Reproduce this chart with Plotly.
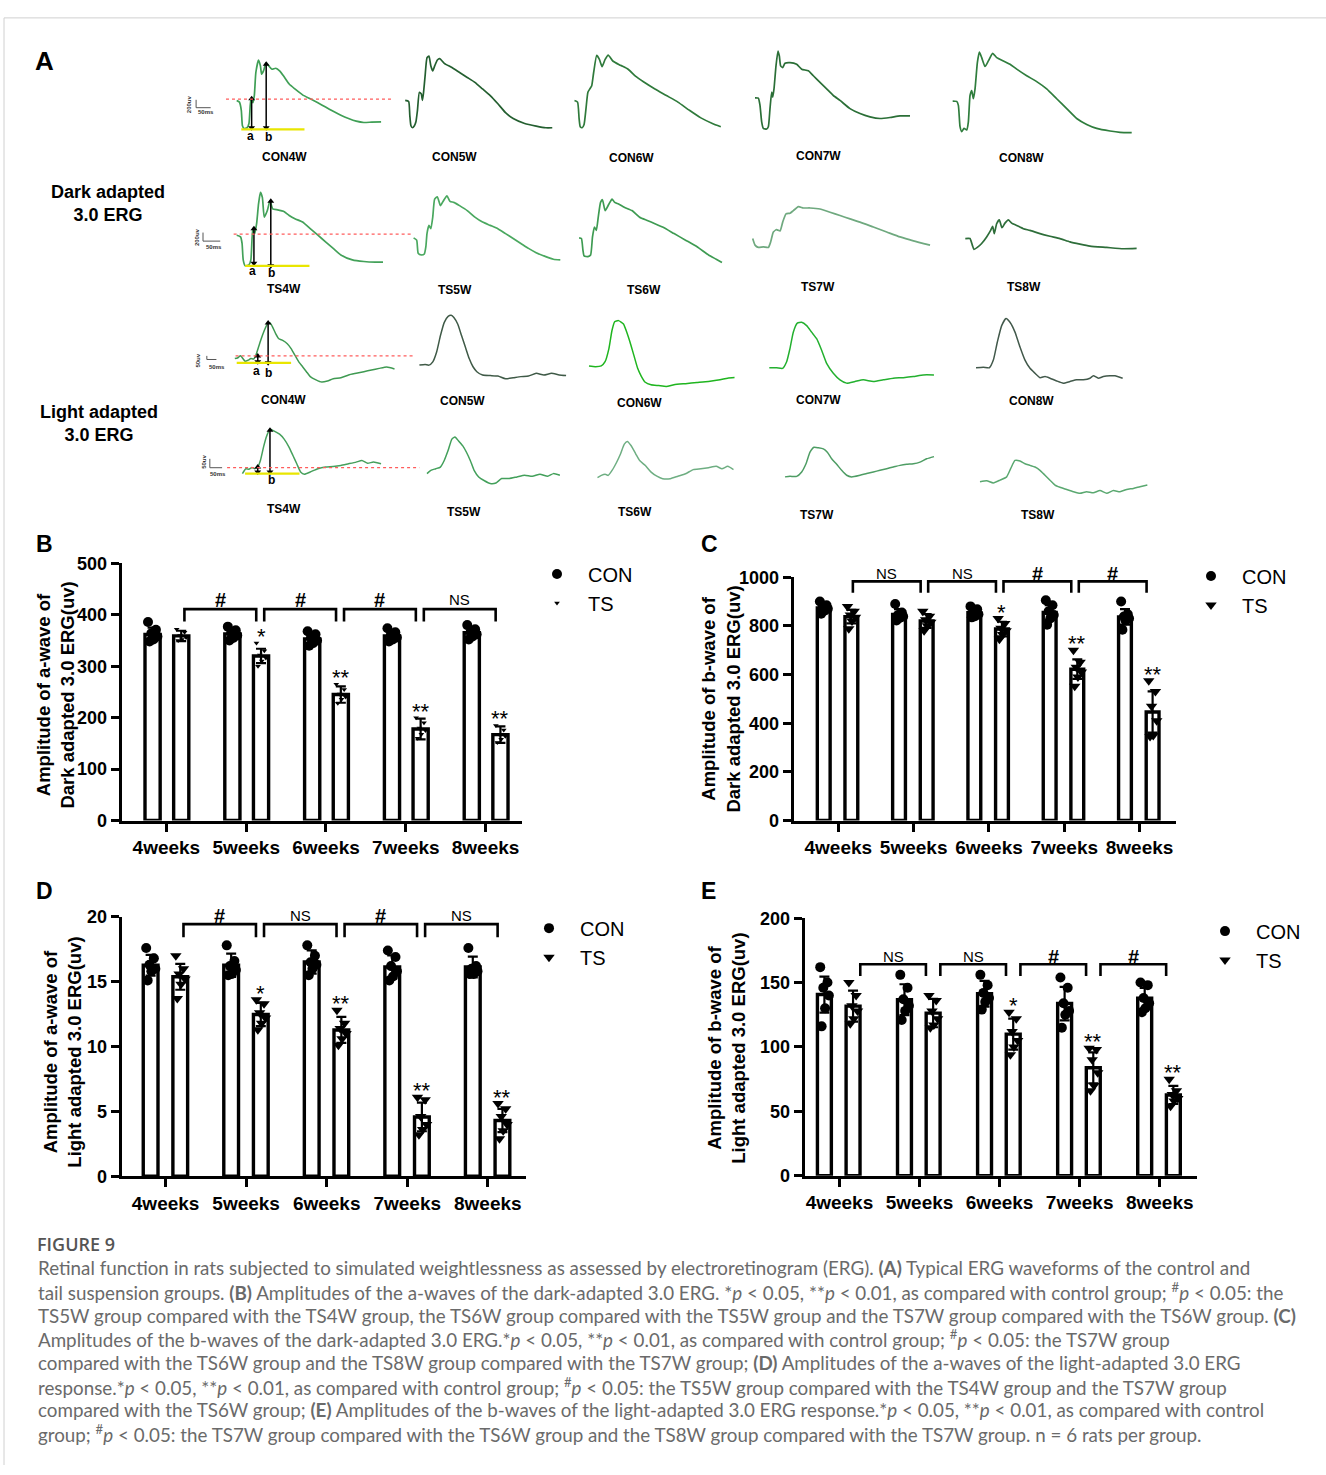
import plotly.graph_objects as go

W, H = 1326, 1475


def fx(p):
    return p / W


def fy(p):
    return 1 - p / H


AXIS_FONT = "Liberation Sans, Arial, sans-serif"
LABEL_FONT = "Liberation Sans, Arial, sans-serif"
CAPTION_FONT = "Lato, Open Sans, sans-serif"

weeks = ["4weeks", "5weeks", "6weeks", "7weeks", "8weeks"]

# ---------------- Panel B: a-wave, dark adapted ----------------
b_con_mean = [362, 363, 353, 359, 365]
b_con_sd = [13, 9, 11, 9, 8]
b_ts_mean = [359, 320, 245, 178, 167]
b_ts_sd = [10, 14, 16, 20, 16]
b_con_points = [[386, 371, 364, 358, 352, 348], [377, 370, 365, 360, 355, 350],
                [368, 362, 356, 350, 345, 340], [374, 366, 360, 356, 352, 348],
                [380, 372, 366, 362, 358, 352]]
b_ts_points = [[372, 366, 360, 356, 352, 350], [345, 330, 322, 316, 310, 300],
               [265, 255, 246, 240, 236, 228], [200, 190, 180, 175, 168, 160],
               [185, 176, 168, 164, 158, 152]]
b_stars = ["", "*", "**", "**", "**"]
b_brackets = ["#", "#", "#", "NS"]

# ---------------- Panel C: b-wave, dark adapted ----------------
c_con_mean = [874, 847, 854, 855, 837]
c_con_sd = [15, 22, 15, 30, 32]
c_ts_mean = [838, 820, 787, 622, 446]
c_ts_sd = [28, 28, 30, 40, 85]
c_con_points = [[900, 885, 878, 870, 862, 850], [890, 855, 845, 838, 832, 822],
                [880, 868, 855, 848, 840, 835], [905, 885, 860, 845, 830, 805],
                [900, 848, 838, 830, 822, 784]]
c_ts_points = [[880, 860, 845, 835, 820, 788], [860, 840, 825, 815, 800, 780],
               [830, 810, 790, 780, 765, 745], [700, 650, 630, 610, 590, 552],
               [575, 530, 470, 410, 350, 345]]
c_stars = ["", "", "*", "**", "**"]
c_brackets = ["NS", "NS", "#", "#"]

# ---------------- Panel D: a-wave, light adapted ----------------
d_con_mean = [16.27, 16.27, 16.52, 16.13, 16.13]
d_con_sd = [0.8, 0.9, 0.9, 0.9, 0.8]
d_ts_mean = [15.38, 12.47, 11.28, 4.57, 4.30]
d_ts_sd = [1.0, 0.9, 1.0, 1.1, 0.9]
d_con_points = [[17.6, 16.8, 16.3, 16.0, 15.8, 15.1], [17.8, 16.6, 16.2, 15.9, 15.6, 15.5],
                [17.8, 17.0, 16.5, 16.3, 16.0, 15.5], [17.4, 16.9, 16.2, 15.8, 15.4, 15.1],
                [17.6, 16.2, 16.0, 15.8, 15.6, 15.6]]
d_ts_points = [[17.0, 16.0, 15.6, 15.2, 14.8, 13.7], [13.6, 13.3, 12.6, 12.2, 11.8, 11.3],
               [12.8, 11.8, 11.4, 11.0, 10.6, 10.1], [6.1, 5.9, 4.6, 4.0, 3.6, 3.2],
               [5.6, 5.2, 4.6, 4.0, 3.5, 2.9]]
d_stars = ["", "*", "**", "**", "**"]
d_brackets = ["#", "NS", "#", "NS"]

# ---------------- Panel E: b-wave, light adapted ----------------
e_con_mean = [140.7, 136.7, 141.3, 133.7, 137.8]
e_con_sd = [14, 12, 10, 13, 8]
e_ts_mean = [131.7, 126.3, 110.0, 83.8, 62.7]
e_ts_sd = [12, 11, 12, 12, 7]
e_con_points = [[162, 150, 146, 140, 130, 116], [156, 146, 137, 132, 128, 121],
                [156, 148, 142, 138, 135, 129], [154, 146, 134, 128, 125, 115],
                [150, 148, 138, 134, 130, 127]]
e_ts_points = [[150, 140, 132, 128, 122, 118], [140, 136, 128, 122, 117, 115],
               [127, 122, 112, 105, 100, 94], [99, 98, 90, 80, 70, 66],
               [75, 66, 63, 60, 58, 54]]
e_stars = ["", "", "*", "**", "**"]
e_brackets = ["NS", "NS", "#", "#"]

# ---------------- Panel A: ERG waveforms (time ms, amplitude uV) ----------------
dark_con4_t = [0, 3.5, 6, 7.5, 9.5, 13.5, 16, 18.5, 21, 23, 25, 28.5, 31, 32.5, 35, 38.5, 42, 46, 51, 56, 61, 68.5, 76, 86, 96, 106, 116, 126, 136, 146, 156, 166, 176, 188.5]
dark_con4_v = [0, -20, -120, -308, -340, -332, -280, 20, -28, 60, 340, 492, 420, 320, 360, 460, 420, 380, 392, 360, 300, 200, 140, 68, 20, -28, -80, -132, -180, -220, -252, -268, -264, -260]
dark_con5_t = [0, 4.5, 6, 7.5, 9.5, 12, 14, 16, 18.5, 21, 22.5, 24, 26, 28.5, 31, 33.5, 36, 38.5, 42, 45, 51, 61, 71, 81, 91, 101, 111, 121, 131, 141, 156, 171, 183.5, 192]
dark_con5_v = [0, -12, -180, -308, -332, -308, -260, -120, 100, 80, 0, 100, 300, 520, 540, 420, 360, 420, 492, 508, 452, 400, 340, 280, 220, 140, 60, -40, -148, -220, -280, -312, -332, -332]
dark_con6_t = [0, 4, 6, 7.5, 10, 12.5, 15, 17.5, 20, 22.5, 25, 29, 32.5, 36, 40, 44, 50, 60, 70, 80, 90, 105, 120, 135, 150, 165, 180, 191]
dark_con6_v = [0, -20, -220, -320, -332, -292, -100, 100, 140, 180, 340, 548, 500, 412, 500, 552, 480, 428, 380, 292, 228, 140, 60, -20, -120, -212, -280, -320]
dark_con7_t = [0, 5, 7.5, 10, 12.5, 17.5, 20, 22.5, 25, 26.5, 28.5, 31.5, 34.5, 36.5, 38.5, 41.5, 45, 52.5, 62.5, 70, 80, 87.5, 97.5, 107.5, 117.5, 127.5, 142.5, 157.5, 172.5, 187.5, 202.5, 217.5, 232.5]
dark_con7_v = [0, -4, -92, -292, -372, -380, -352, -132, 68, 8, 108, 388, 568, 508, 388, 368, 420, 428, 408, 348, 328, 268, 188, 108, 28, -32, -132, -192, -232, -252, -240, -220, -220]
dark_con8_t = [0, 6, 8.5, 11, 13.5, 17, 21, 23.5, 26, 28.5, 31, 33.5, 37, 40, 43.5, 48.5, 53.5, 60, 66, 76, 86, 96, 111, 126, 141, 156, 171, 186, 201, 216, 236, 251, 268.5]
dark_con8_v = [0, -4, -52, -312, -372, -332, -352, -252, 68, 128, 28, 148, 468, 596, 528, 420, 488, 580, 528, 488, 448, 388, 308, 236, 148, 28, -92, -212, -284, -332, -364, -380, -384]
dark_ts4_t = [0, 5, 7, 8.5, 11, 16, 18.5, 21, 23.5, 26, 28.5, 31, 33.5, 36, 40, 43.5, 47, 53.5, 61, 68.5, 76, 86, 96, 106, 116, 126, 136, 151, 166, 181, 191]
dark_ts4_v = [0, -20, -100, -300, -372, -360, -300, 80, 20, 140, 380, 520, 460, 220, 300, 420, 320, 308, 292, 240, 200, 160, 80, 0, -80, -160, -240, -300, -320, -328, -328]
dark_ts5_t = [0, 4, 6, 10, 14, 16, 17.5, 20, 22.5, 25, 27.5, 31, 35, 39, 43.5, 47.5, 52.5, 60, 70, 80, 90, 100, 110, 120, 130, 140, 150, 160, 172.5, 182.5, 191.5]
dark_ts5_v = [0, -28, -188, -208, -196, -108, 52, 152, 112, 252, 472, 500, 392, 452, 512, 444, 432, 392, 332, 252, 192, 152, 112, 52, -8, -68, -128, -180, -228, -260, -268]
dark_ts6_t = [0, 3, 5, 6.5, 11.5, 15, 17.5, 20, 22.5, 25, 28, 30.5, 34, 39, 43, 46.5, 51.5, 59, 69, 79, 89, 99, 109, 124, 139, 154, 169, 179, 186.5]
dark_ts6_v = [0, -8, -148, -220, -228, -208, 12, 132, 92, 252, 432, 464, 332, 412, 472, 432, 412, 372, 332, 252, 212, 172, 132, 52, -28, -108, -208, -260, -300]
dark_ts7_t = [0, 3.5, 8.5, 16, 23.5, 27, 31, 36, 41, 45, 50, 56, 61, 68.5, 76, 86, 101, 116, 131, 146, 161, 181, 201, 221, 241, 266]
dark_ts7_v = [0, -80, -108, -100, -108, -40, 80, 108, 92, 200, 300, 308, 340, 388, 372, 372, 360, 320, 280, 240, 200, 140, 80, 20, -28, -80]
dark_ts8_t = [0, 7, 10.5, 13, 18, 24.5, 32, 38, 41, 43.5, 47, 51, 55, 59.5, 64.5, 69.5, 77, 87, 97, 112, 127, 142, 157, 172, 187, 212, 237, 257]
dark_ts8_v = [0, 0, -80, -132, -108, -60, 20, 100, 148, 60, 180, 228, 132, 188, 228, 188, 160, 120, 100, 60, 28, 0, -40, -68, -92, -108, -124, -120]

light_con4_t = [0, 3.5, 7.5, 11, 13.5, 17.5, 21, 24.5, 27.5, 31, 34.5, 38.5, 42.5, 46, 49.5, 53.5, 57.5, 62.5, 68.5, 73.5, 78.5, 83.5, 88.5, 93.5, 98.5, 106, 113.5, 121, 128.5, 138.5, 148.5, 158.5, 168.5, 178.5, 188.5, 198.5, 208.5]
light_con4_v = [0, 2, 10, -2, -10, -6, 0, -2, 12, 42, 72, 102, 126, 130, 114, 90, 72, 66, 54, 36, 12, -12, -30, -48, -66, -78, -86, -82, -74, -70, -60, -54, -48, -42, -36, -31, -38]
light_con5_t = [0, 7.5, 12.5, 17.5, 22.5, 27.5, 32.5, 37.5, 41.5, 45, 50, 55, 60, 65, 70, 75, 82.5, 92.5, 102.5, 112.5, 122.5, 132.5, 142.5, 152.5, 162.5, 172.5, 182.5, 191.5]
light_con5_v = [0, 2, 0, 12, 48, 108, 156, 178, 182, 174, 150, 108, 66, 24, -6, -24, -36, -38, -40, -50, -46, -42, -40, -30, -36, -30, -36, -38]
light_con6_t = [0, 8.5, 16, 21, 26, 30, 33.5, 38.5, 45, 48.5, 53.5, 58.5, 63.5, 68.5, 73.5, 81, 91, 101, 111, 126, 141, 156, 171, 181, 190]
light_con6_v = [0, -2, 1, 16, 64, 130, 162, 166, 154, 130, 88, 40, -8, -38, -59, -68, -71, -74, -68, -64, -60, -56, -50, -44, -42]
light_con7_t = [0, 11, 20, 26, 31, 36, 42, 48.5, 56, 63.5, 71, 78.5, 86, 96, 106, 116, 128.5, 141, 156, 171, 186, 201, 216, 231, 247]
light_con7_v = [0, 0, -2, 22, 70, 130, 163, 166, 154, 130, 106, 64, 16, -20, -44, -56, -50, -44, -50, -44, -38, -36, -32, -26, -26]
light_con8_t = [0, 11, 20, 26, 32, 38.5, 45, 51, 58.5, 66, 73.5, 81, 88.5, 96, 103.5, 111, 121, 131, 141, 151, 161, 171, 176, 183.5, 191, 201, 208.5, 220]
light_con8_v = [0, 2, 0, 28, 94, 154, 180, 166, 130, 76, 28, -2, -20, -36, -32, -38, -48, -56, -50, -44, -44, -38, -29, -38, -32, -29, -29, -38]
light_ts4_t = [0, 4.5, 8.5, 12.5, 16, 20, 23.5, 27.5, 31, 36, 41, 48.5, 54.5, 61, 66, 71, 76, 81, 88.5, 98.5, 108.5, 118.5, 128.5, 138.5, 148.5, 156, 163.5, 171, 181]
light_ts4_v = [0, 18, 16, 22, 18, 24, 48, 96, 132, 162, 156, 144, 126, 96, 66, 36, 6, -2, 6, 18, 24, 26, 30, 36, 42, 48, 38, 42, 36]
light_ts5_t = [0, 5, 11.5, 17.5, 22.5, 27.5, 32.5, 36.5, 41, 46.5, 51.5, 56.5, 61.5, 67.5, 75, 82.5, 90, 97.5, 107.5, 117.5, 127.5, 137.5, 147.5, 157.5, 165, 173.5]
light_ts5_v = [0, 12, 18, 24, 48, 84, 126, 134, 120, 102, 78, 48, 12, -12, -26, -36, -34, -18, -18, -12, -6, -10, -2, -10, 0, -6]
light_ts6_t = [0, 5, 10, 14, 19, 25, 30, 35, 39, 44, 50, 55, 62.5, 70, 77.5, 85, 95, 105, 115, 125, 135, 145, 155, 162.5, 170, 177.5]
light_ts6_v = [0, 8, 12, 8, 26, 56, 86, 122, 132, 116, 86, 62, 44, 20, 5, -4, -4, 5, 14, 29, 32, 36, 41, 32, 41, 29]
light_ts7_t = [0, 7.5, 17.5, 25, 31.5, 37.5, 43.5, 50, 57.5, 63.5, 70, 77.5, 85, 92.5, 100, 112.5, 122.5, 132.5, 142.5, 152.5, 162.5, 172.5, 182.5, 192.5, 202.5, 212.5, 223.5]
light_ts7_v = [0, 2, 2, 18, 48, 90, 108, 106, 102, 90, 66, 46, 24, 6, 0, 6, 12, 18, 24, 30, 36, 42, 46, 48, 54, 66, 74]
light_ts8_t = [0, 10, 20, 30, 40, 46, 52.5, 60, 67.5, 75, 82.5, 90, 97.5, 105, 112.5, 120, 130, 140, 150, 160, 170, 180, 190, 200, 210, 220, 230, 240, 251]
light_ts8_v = [0, 4, -4, 6, 18, 48, 78, 76, 66, 60, 54, 42, 24, 6, -12, -20, -28, -36, -42, -36, -40, -32, -42, -32, -36, -28, -24, -18, -12]

erg_names = [["CON4W", "CON5W", "CON6W", "CON7W", "CON8W"],
             ["TS4W", "TS5W", "TS6W", "TS7W", "TS8W"],
             ["CON4W", "CON5W", "CON6W", "CON7W", "CON8W"],
             ["TS4W", "TS5W", "TS6W", "TS7W", "TS8W"]]
erg_data = [
    [(dark_con4_t, dark_con4_v), (dark_con5_t, dark_con5_v), (dark_con6_t, dark_con6_v), (dark_con7_t, dark_con7_v), (dark_con8_t, dark_con8_v)],
    [(dark_ts4_t, dark_ts4_v), (dark_ts5_t, dark_ts5_v), (dark_ts6_t, dark_ts6_v), (dark_ts7_t, dark_ts7_v), (dark_ts8_t, dark_ts8_v)],
    [(light_con4_t, light_con4_v), (light_con5_t, light_con5_v), (light_con6_t, light_con6_v), (light_con7_t, light_con7_v), (light_con8_t, light_con8_v)],
    [(light_ts4_t, light_ts4_v), (light_ts5_t, light_ts5_v), (light_ts6_t, light_ts6_v), (light_ts7_t, light_ts7_v), (light_ts8_t, light_ts8_v)],
]

# ---------------- layout constants (pixel positions, styles) ----------------
ROW_KIND = ["dark", "dark", "light", "light"]
CELL_ORIGIN = [
    [(236.7, 91.7), (405.2, 91.7), (574.5, 91.7), (755, 89), (952.7, 92.3)],
    [(236.7, 228.3), (413.6, 231), (579.1, 231), (752.7, 231.7), (965.3, 231.7)],
    [(234.8, 353.3), (419.4, 360), (589, 361), (769.3, 362.7), (976, 362.7)],
    [(242.4, 470), (427, 470), (597.5, 474), (785, 473.3), (980, 478.3)],
]
COL_MSPP = [1.3055, 1.3055, 1.3055, 1.5, 1.5]
CELL_COLOR = [
    ["#3f9f55", "#245f30", "#2f7a3b", "#2b6f37", "#2f7d3d"],
    ["#43a159", "#4aa85f", "#3e9b52", "#6fa97f", "#2e6e3a"],
    ["#3f9a52", "#3f5a47", "#1fb51f", "#23b02f", "#42594b"],
    ["#46a05c", "#43a05b", "#6eae82", "#4e9d64", "#5aa870"],
]
LABEL_POS = [
    [(284, 149), (454, 149), (631, 150), (818, 148), (1021, 150)],
    [(284, 283), (455, 284), (644, 284), (818, 281), (1024, 281)],
    [(283, 395), (462, 396), (639, 398), (818, 395), (1031, 396)],
    [(284, 506), (464, 509), (635, 509), (817, 512), (1038, 512)],
]
# markup of the 4W example traces, in each cell's own (ms, uV) units
MARKUP = [
    dict(red=(-14, 203.5, 16), yellow=(6, 88.5, -352), arrows=[(19.5, 20, -332), (38.5, 440, -332)],
         letters=[("a", 17.5, -432), ("b", 41, -448)], bar=(-53, 8, -88, -34), vtxt=("200uv", -63, -40), htxt=("50ms", -40, -140)),
    dict(red=(-4, 231, 12), yellow=(11, 95, -372), arrows=[(22.5, 80, -340), (44.5, 412, -372)],
         letters=[("a", 21, -440), ("b", 46, -460)], bar=(-44, 32, -72, -21.5), vtxt=("200uv", -51.5, -20), htxt=("50ms", -29, -148)),
    dict(red=(1, 233.5, 9.6), yellow=(2.5, 73.5, -15.6), arrows=[(30, 9.6, -12), (43.5, 129.6, -15.6)],
         letters=[("a", 28.5, -45.6), ("b", 44.5, -51.6)], bar=(-36.5, 9.6, -3.6, -24), vtxt=("50uv", -47.5, -6), htxt=("50ms", -23, -30)),
    dict(red=(-20, 231, 21.6), yellow=(3.5, 74.5, 0), arrows=[(20, 24, 6), (36, 158, 6)],
         letters=[("b", 37.5, -24)], bar=(-42.5, 54, 21.6, -26.5), vtxt=("50uv", -50.5, 42), htxt=("50ms", -31.5, 0)),
]

PANELS = [
    dict(box=(121.7, 561, 522.3, 821.7), yrange=[0, 500], dtick=100, xrange=[-0.56, 4.46],
         con_off=-0.173, ts_off=0.186, bw=0.19, tri=5, btop=411, bdrop=387, blab=429, ins=(0.04, 0.06),
         title="Amplitude of a-wave of<br>Dark adapted 3.0 ERG(uv)", tpos=(56, 695), leg=(557, 578), letter=("B", 44, 541)),
    dict(box=(793.6, 575, 1175.5, 821.7), yrange=[0, 1000], dtick=200, xrange=[-0.594, 4.477],
         con_off=-0.194, ts_off=0.173, bw=0.17, tri=10, btop=983, bdrop=936, blab=1013, ins=(0.02, 0.08),
         title="Amplitude of b-wave of<br>Dark adapted 3.0 ERG(uv)", tpos=(721, 698), leg=(1211, 580), letter=("C", 709, 541)),
    dict(box=(121.7, 919.3, 526.2, 1182.3), yrange=[0, 20], dtick=5, xrange=[-0.545, 4.477],
         con_off=-0.186, ts_off=0.182, bw=0.183, tri=10, btop=19.44, bdrop=18.43, blab=20.07, ins=(0.04, 0.06),
         title="Amplitude of a-wave of<br>Light adapted 3.0 ERG(uv)", tpos=(63, 1057), leg=(549, 937), letter=("D", 44, 893)),
    dict(box=(804.7, 920.7, 1196.9, 1181.7), yrange=[0, 200], dtick=50, xrange=[-0.434, 4.464],
         con_off=-0.188, ts_off=0.17, bw=0.174, tri=10, btop=164.3, bdrop=155.1, blab=169.9, ins=(0.09, 0.09),
         title="Amplitude of b-wave of<br>Light adapted 3.0 ERG(uv)", tpos=(727, 1053), leg=(1225, 940), letter=("E", 708, 893)),
]
JITTER = [-0.30, 0.22, -0.08, 0.32, 0.05, -0.20]

fig = go.Figure()
layout = {}
annotations = []
shapes = []
ax_n = [0]


def paper_text(px, py, text, size, family=LABEL_FONT, color="black", **kw):
    d = dict(x=fx(px), y=fy(py), xref="paper", yref="paper", text=text, showarrow=False,
             xanchor="center", yanchor="middle", font=dict(family=family, size=size, color=color))
    d.update(kw)
    annotations.append(d)


def add_axes(x0, y0, x1, y1, xrange, yrange, visible):
    ax_n[0] += 1
    n = ax_n[0]
    sfx = "" if n == 1 else str(n)
    xr, yr = "x" + sfx, "y" + sfx
    common = dict(visible=visible, fixedrange=True, showgrid=False, zeroline=False)
    layout["xaxis" + sfx] = dict(domain=[fx(x0), fx(x1)], range=xrange, anchor=yr, **common)
    layout["yaxis" + sfx] = dict(domain=[fy(y1), fy(y0)], range=yrange, anchor=xr, **common)
    return xr, yr, "xaxis" + sfx, "yaxis" + sfx


def bar_panel(k, spec, con_mean, con_sd, con_pts, ts_mean, ts_sd, ts_pts, stars, brackets):
    x0, y0, x1, y1 = spec["box"]
    xr, yr, xa, ya = add_axes(x0, y0, x1, y1, spec["xrange"], spec["yrange"], True)
    axis_style = dict(showline=True, linewidth=3, linecolor="black", ticks="outside", ticklen=8,
                      tickwidth=3, tickcolor="black")
    layout[xa].update(axis_style, tickmode="array", tickvals=list(range(len(weeks))), ticktext=weeks,
                      tickfont=dict(family=AXIS_FONT, size=19, color="black", weight="bold"))
    layout[ya].update(axis_style, tickmode="linear", tick0=0, dtick=spec["dtick"],
                      tickfont=dict(family=AXIS_FONT, size=18, color="black", weight="bold"))
    yspan = spec["yrange"][1] - spec["yrange"][0]
    px_per_unit = (y1 - y0) / yspan
    idx = range(len(weeks))
    con_x = [i + spec["con_off"] for i in idx]
    ts_x = [i + spec["ts_off"] for i in idx]
    for xs, means, sds in ((con_x, con_mean, con_sd), (ts_x, ts_mean, ts_sd)):
        fig.add_trace(go.Bar(x=xs, y=means, width=spec["bw"],
                             marker=dict(color="white", line=dict(color="black", width=3.4)),
                             error_y=dict(type="data", array=sds, visible=True, color="black", thickness=2.2, width=5),
                             xaxis=xr, yaxis=yr, showlegend=False, hoverinfo="skip"))
    legend_id = "legend" if k == 0 else "legend%d" % (k + 1)
    for name, xs, pts, sym, size in (("CON", con_x, con_pts, "circle", 10),
                                     ("TS", ts_x, ts_pts, "triangle-down", spec["tri"])):
        px_, py_ = [], []
        for i, group in enumerate(pts):
            for j, val in enumerate(group):
                px_.append(xs[i] + JITTER[j] * spec["bw"])
                py_.append(val)
        fig.add_trace(go.Scatter(x=px_, y=py_, mode="markers", name="\u00a0\u00a0" + name,
                                 marker=dict(symbol=sym, size=size, color="black", line=dict(width=0)),
                                 xaxis=xr, yaxis=yr, legend=legend_id, cliponaxis=False, hoverinfo="skip"))
    bx, by = [], []
    for i, lab in enumerate(brackets):
        a = ts_x[i] + spec["ins"][0]
        b = ts_x[i + 1] - spec["ins"][1]
        bx += [a, a, b, b, None]
        by += [spec["bdrop"], spec["btop"], spec["btop"], spec["bdrop"], None]
        if lab == "#":
            font = dict(family=AXIS_FONT, size=20, color="black", weight="bold")
        else:
            font = dict(family=AXIS_FONT, size=15, color="black")
        annotations.append(dict(x=(a + b) / 2, y=spec["btop"], xref=xr, yref=yr, text=lab, showarrow=False,
                                font=font, xanchor="center", yanchor="middle",
                                yshift=(spec["blab"] - spec["btop"]) * px_per_unit))
    fig.add_trace(go.Scatter(x=bx, y=by, mode="lines", line=dict(color="black", width=2.6),
                             xaxis=xr, yaxis=yr, showlegend=False, hoverinfo="skip", cliponaxis=False))
    for i, s in enumerate(stars):
        if s:
            top = max(max(ts_pts[i]), ts_mean[i] + ts_sd[i])
            annotations.append(dict(x=ts_x[i], y=top, xref=xr, yref=yr, text=s, showarrow=False,
                                    xanchor="center", yanchor="bottom", yshift=-8,
                                    font=dict(family=AXIS_FONT, size=22, color="black")))
    tx, ty = spec["tpos"]
    paper_text(tx, ty, "<b>" + spec["title"] + "</b>", 18.5, family=AXIS_FONT, textangle=-90)
    lx, ly = spec["leg"]
    layout[legend_id] = dict(x=fx(lx - 20), y=fy(ly - 26), xanchor="left", yanchor="top",
                             font=dict(family=AXIS_FONT, size=20, color="black"), bgcolor="rgba(0,0,0,0)",
                             borderwidth=0, itemwidth=30, tracegroupgap=0, itemclick=False,
                             itemdoubleclick=False)
    lt, ltx, lty = spec["letter"]
    paper_text(ltx, lty, "<b>" + lt + "</b>", 23, family=AXIS_FONT)


bar_panel(0, PANELS[0], b_con_mean, b_con_sd, b_con_points, b_ts_mean, b_ts_sd, b_ts_points, b_stars, b_brackets)
bar_panel(1, PANELS[1], c_con_mean, c_con_sd, c_con_points, c_ts_mean, c_ts_sd, c_ts_points, c_stars, c_brackets)
bar_panel(2, PANELS[2], d_con_mean, d_con_sd, d_con_points, d_ts_mean, d_ts_sd, d_ts_points, d_stars, d_brackets)
bar_panel(3, PANELS[3], e_con_mean, e_con_sd, e_con_points, e_ts_mean, e_ts_sd, e_ts_points, e_stars, e_brackets)

# ---------------- ERG cells ----------------
for r in range(4):
    kind = ROW_KIND[r]
    if kind == "dark":
        yrange, uvpp, lw = [-500, 700], 12.0, 1.7
    else:
        yrange, uvpp, lw = [-150, 250], 3.6, 1.5
    xrange = [-80, 290]
    for c in range(5):
        t, v = erg_data[r][c]
        ox, oy = CELL_ORIGIN[r][c]
        mspp = COL_MSPP[c]
        x0 = ox + xrange[0] / mspp
        x1 = ox + xrange[1] / mspp
        y0 = oy - yrange[1] / uvpp
        y1 = oy - yrange[0] / uvpp
        xr, yr, xa, ya = add_axes(x0, y0, x1, y1, xrange, yrange, False)
        fig.add_trace(go.Scatter(x=t, y=v, mode="lines",
                                 line=dict(color=CELL_COLOR[r][c], width=lw, shape="spline", smoothing=0.5),
                                 xaxis=xr, yaxis=yr, showlegend=False, hoverinfo="skip", cliponaxis=False))
        lxp, lyp = LABEL_POS[r][c]
        paper_text(lxp, lyp, "<b>" + erg_names[r][c] + "</b>", 12)
        if c == 0:
            m = MARKUP[r]
            ra, rb, rv = m["red"]
            shapes.append(dict(type="line", xref=xr, yref=yr, x0=ra, x1=rb, y0=rv, y1=rv,
                               line=dict(color="#ff5c5c", width=1.3, dash="dot")))
            ya_, yb_, yv = m["yellow"]
            shapes.append(dict(type="line", xref=xr, yref=yr, x0=ya_, x1=yb_, y0=yv, y1=yv,
                               line=dict(color="#e9e600", width=2.2)))
            # double-headed measurement arrows (a- and b-wave amplitude)
            for (at, atop, abot) in m["arrows"]:
                fig.add_trace(go.Scatter(x=[at, at], y=[atop, abot], mode="lines+markers",
                                         line=dict(color="black", width=1.5),
                                         marker=dict(symbol=["triangle-up", "triangle-down"], size=6, color="black"),
                                         xaxis=xr, yaxis=yr, showlegend=False, hoverinfo="skip", cliponaxis=False))
            for (lt, lt_t, lt_v) in m["letters"]:
                annotations.append(dict(x=lt_t, y=lt_v, xref=xr, yref=yr, text="<b>" + lt + "</b>",
                                        showarrow=False, xanchor="center", yanchor="middle",
                                        font=dict(family=LABEL_FONT, size=12, color="black")))
            bt, bv0, bv1, bt1 = m["bar"]
            shapes.append(dict(type="line", xref=xr, yref=yr, x0=bt, x1=bt, y0=bv0, y1=bv1,
                               line=dict(color="#555555", width=1)))
            shapes.append(dict(type="line", xref=xr, yref=yr, x0=bt, x1=bt1, y0=bv1, y1=bv1,
                               line=dict(color="#555555", width=1)))
            vt, vtt, vtv = m["vtxt"]
            annotations.append(dict(x=vtt, y=vtv, xref=xr, yref=yr, text="<b>" + vt + "</b>", textangle=-90,
                                    showarrow=False, xanchor="center", yanchor="middle",
                                    font=dict(family=LABEL_FONT, size=6, color="#333333")))
            ht, htt, htv = m["htxt"]
            annotations.append(dict(x=htt, y=htv, xref=xr, yref=yr, text="<b>" + ht + "</b>",
                                    showarrow=False, xanchor="center", yanchor="middle",
                                    font=dict(family=LABEL_FONT, size=6, color="#333333")))

# ---------------- panel A labels ----------------
paper_text(44, 52, "<b>A</b>", 26, family=AXIS_FONT)
paper_text(108, 196, "<b>Dark adapted<br>3.0 ERG</b>", 18)
paper_text(99, 419, "<b>Light adapted<br>3.0 ERG</b>", 18)

# ---------------- caption ----------------
caption_lines = [
    "Retinal function in rats subjected to simulated weightlessness as assessed by electroretinogram (ERG). <b>(A)</b> Typical ERG waveforms of the control and",
    "tail suspension groups. <b>(B)</b> Amplitudes of the a-waves of the dark-adapted 3.0 ERG. *<i>p</i> &lt; 0.05, **<i>p</i> &lt; 0.01, as compared with control group; <sup>#</sup><i>p</i> &lt; 0.05: the",
    "TS5W group compared with the TS4W group, the TS6W group compared with the TS5W group and the TS7W group compared with the TS6W group. <b>(C)</b>",
    "Amplitudes of the b-waves of the dark-adapted 3.0 ERG.*<i>p</i> &lt; 0.05, **<i>p</i> &lt; 0.01, as compared with control group; <sup>#</sup><i>p</i> &lt; 0.05: the TS7W group",
    "compared with the TS6W group and the TS8W group compared with the TS7W group; <b>(D)</b> Amplitudes of the a-waves of the light-adapted 3.0 ERG",
    "response.*<i>p</i> &lt; 0.05, **<i>p</i> &lt; 0.01, as compared with control group; <sup>#</sup><i>p</i> &lt; 0.05: the TS5W group compared with the TS4W group and the TS7W group",
    "compared with the TS6W group; <b>(E)</b> Amplitudes of the b-waves of the light-adapted 3.0 ERG response.*<i>p</i> &lt; 0.05, **<i>p</i> &lt; 0.01, as compared with control",
    "group; <sup>#</sup><i>p</i> &lt; 0.05: the TS7W group compared with the TS6W group and the TS8W group compared with the TS7W group. n = 6 rats per group.",
]
paper_text(35, 1251, "FIGURE 9", 18, family="Open Sans, sans-serif", color="#555555", xanchor="left")
annotations[-1]["font"]["weight"] = 600
for i, line in enumerate(caption_lines):
    paper_text(36, 1275 + 24 * i, line, 18.8, family=CAPTION_FONT, color="#6a6a6a", xanchor="left")

# frame lines of the figure box
shapes.append(dict(type="line", xref="paper", yref="paper", x0=fx(4), x1=1, y0=fy(8), y1=fy(8),
                   line=dict(color="#d0d0d0", width=1)))
shapes.append(dict(type="line", xref="paper", yref="paper", x0=fx(4), x1=fx(4), y0=fy(8), y1=0,
                   line=dict(color="#d0d0d0", width=1)))

fig.update_layout(
    width=W, height=H, margin=dict(l=0, r=0, t=0, b=0, pad=0),
    paper_bgcolor="white", plot_bgcolor="rgba(0,0,0,0)",
    barmode="overlay", showlegend=True, hovermode=False,
    annotations=annotations, shapes=shapes, **layout,
)

RESET_PAGE = (
    "var st = document.createElement('style');"
    "st.innerHTML = 'html, body {margin:0 !important; padding:0 !important; overflow:hidden;}';"
    "document.head.appendChild(st);"
    "document.body.style.margin = '0px';"
)
fig.write_html("out.html", config={"displayModeBar": False}, post_script=RESET_PAGE)
